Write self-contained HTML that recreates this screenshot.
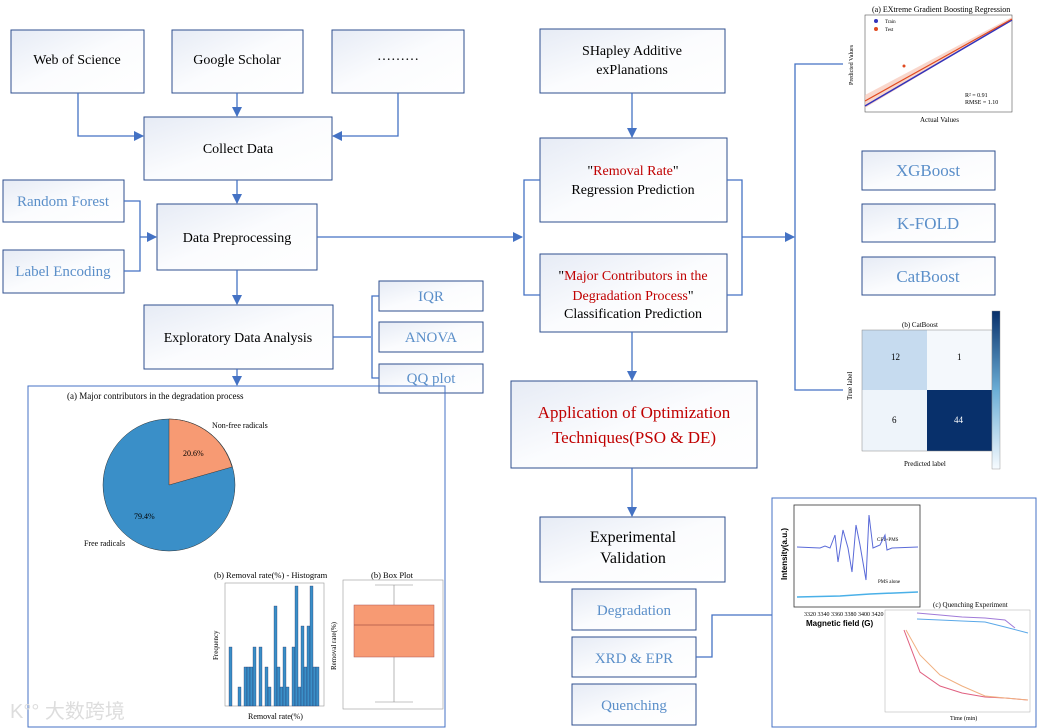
<!DOCTYPE html>
<html><head><meta charset="utf-8"><style>
body{margin:0;background:#fff}
svg{display:block;font-family:"Liberation Serif",serif}
</style></head><body>
<svg width="1037" height="728" viewBox="0 0 1037 728" xmlns="http://www.w3.org/2000/svg">
<defs>
<linearGradient id="g" x1="0" y1="0" x2="1" y2="1"><stop offset="0" stop-color="#e6ebf5"/><stop offset="0.5" stop-color="#fbfcfe"/><stop offset="1" stop-color="#ffffff"/></linearGradient>
<marker id="a" markerWidth="10" markerHeight="10" refX="9" refY="5" orient="auto" markerUnits="userSpaceOnUse"><path d="M0,0 L10,5 L0,10 z" fill="#4472c4"/></marker>
</defs>
<g stroke="#2f4f8f" stroke-width="1" fill="url(#g)">
<rect x="11" y="30" width="133" height="63"/>
<rect x="172" y="30" width="131" height="63"/>
<rect x="332" y="30" width="132" height="63"/>
<rect x="144" y="117" width="188" height="63"/>
<rect x="157" y="204" width="160" height="66"/>
<rect x="144" y="305" width="189" height="64"/>
<rect x="3" y="180" width="121" height="42"/>
<rect x="3" y="250" width="121" height="43"/>
<rect x="379" y="281" width="104" height="30"/>
<rect x="379" y="322" width="104" height="30"/>
<rect x="379" y="364" width="104" height="29"/>
<rect x="540" y="29" width="185" height="64"/>
<rect x="540" y="138" width="187" height="84"/>
<rect x="540" y="254" width="187" height="78"/>
<rect x="511" y="381" width="246" height="87"/>
<rect x="540" y="517" width="185" height="65"/>
<rect x="572" y="589" width="124" height="41"/>
<rect x="572" y="637" width="124" height="40"/>
<rect x="572" y="684" width="124" height="41"/>
<rect x="862" y="151" width="133" height="39"/>
<rect x="862" y="204" width="133" height="38"/>
<rect x="862" y="257" width="133" height="38"/>
</g>
<rect x="28" y="386" width="417" height="341" fill="none" stroke="#4472c4"/>
<rect x="772" y="498" width="264" height="229" fill="none" stroke="#4472c4"/>
<g font-size="14" text-anchor="middle" fill="#000">
<text x="77" y="64">Web of Science</text>
<text x="237" y="64">Google Scholar</text>
<text x="398" y="60">………</text>
<text x="238" y="153">Collect Data</text>
<text x="237" y="242">Data Preprocessing</text>
<text x="238" y="342">Exploratory Data Analysis</text>
<text x="632" y="55">SHapley Additive</text>
<text x="632" y="74">exPlanations</text>
<text x="633" y="175">"<tspan fill="#c00000">Removal Rate</tspan>"</text>
<text x="633" y="194">Regression Prediction</text>
<text x="633" y="280">"<tspan fill="#c00000">Major Contributors in the</tspan></text>
<text x="633" y="300"><tspan fill="#c00000">Degradation Process</tspan>"</text>
<text x="633" y="318">Classification Prediction</text>
<text x="634" y="418" font-size="17" fill="#c00000">Application of Optimization</text>
<text x="634" y="443" font-size="17" fill="#c00000">Techniques(PSO &amp; DE)</text>
<text x="633" y="542" font-size="16">Experimental</text>
<text x="633" y="563" font-size="16">Validation</text>
</g>
<g font-size="15" text-anchor="middle" fill="#5b8fc9">
<text x="63" y="206">Random Forest</text>
<text x="63" y="276">Label Encoding</text>
<text x="431" y="301">IQR</text>
<text x="431" y="342">ANOVA</text>
<text x="431" y="383">QQ plot</text>
<text x="634" y="615">Degradation</text>
<text x="634" y="663">XRD &amp; EPR</text>
<text x="634" y="710">Quenching</text>
<text x="928" y="176" font-size="17">XGBoost</text>
<text x="928" y="229" font-size="17">K-FOLD</text>
<text x="928" y="282" font-size="17">CatBoost</text>
</g>
<g stroke="#4472c4" stroke-width="1.3" fill="none">
<path d="M78,93 V136 H143" marker-end="url(#a)"/>
<path d="M237,93 V116" marker-end="url(#a)"/>
<path d="M398,93 V136 H333" marker-end="url(#a)"/>
<path d="M237,180 V203" marker-end="url(#a)"/>
<path d="M124,201 H140 V271 H124"/>
<path d="M140,237 H156" marker-end="url(#a)"/>
<path d="M237,270 V304" marker-end="url(#a)"/>
<path d="M317,237 H522" marker-end="url(#a)"/>
<path d="M540,180 H524 V295 H540"/>
<path d="M333,337 H371"/>
<path d="M379,296 H372 V378 H379"/>
<path d="M237,369 V385" marker-end="url(#a)"/>
<path d="M632,93 V137" marker-end="url(#a)"/>
<path d="M727,180 H742 V295 H727"/>
<path d="M742,237 H794" marker-end="url(#a)"/>
<path d="M843,64 H795 V390 H843"/>
<path d="M632,332 V380" marker-end="url(#a)"/>
<path d="M632,468 V516" marker-end="url(#a)"/>
<path d="M696,657 H712 V615 H772"/>
</g>
<g font-size="9">
<text x="67" y="399">(a) Major contributors in the degradation process</text>
<circle cx="169" cy="485" r="66" fill="#3a8fc8" stroke="#333" stroke-width="0.5"/>
<path d="M169,485 V419 A66,66 0 0 1 232,467 z" fill="#f79a73" stroke="#333" stroke-width="0.5"/>
<text x="183" y="456" font-size="8">20.6%</text>
<text x="134" y="519" font-size="8">79.4%</text>
<text x="212" y="428" font-size="8">Non-free radicals</text>
<text x="84" y="546" font-size="8">Free radicals</text>
<text x="214" y="578" font-size="8.5">(b) Removal rate(%) - Histogram</text>
<text x="371" y="578" font-size="8.5">(b) Box Plot</text>
<rect x="225" y="583" width="99" height="123" fill="none" stroke="#999" stroke-width="0.6"/>
<g fill="#3a8fc8" stroke="#225" stroke-width="0.3">
<rect x="229" y="647" width="3" height="59"/><rect x="238" y="687" width="3" height="19"/>
<rect x="244" y="667" width="3" height="39"/><rect x="247" y="667" width="3" height="39"/><rect x="250" y="667" width="3" height="39"/>
<rect x="253" y="647" width="3" height="59"/><rect x="259" y="647" width="3" height="59"/><rect x="265" y="667" width="3" height="39"/>
<rect x="268" y="687" width="3" height="19"/><rect x="274" y="606" width="3" height="100"/><rect x="277" y="667" width="3" height="39"/>
<rect x="280" y="687" width="3" height="19"/><rect x="283" y="647" width="3" height="59"/><rect x="286" y="687" width="3" height="19"/>
<rect x="292" y="647" width="3" height="59"/><rect x="295" y="586" width="3" height="120"/><rect x="298" y="687" width="3" height="19"/>
<rect x="301" y="626" width="3" height="80"/><rect x="304" y="667" width="3" height="39"/><rect x="307" y="626" width="3" height="80"/>
<rect x="310" y="586" width="3" height="120"/><rect x="313" y="667" width="3" height="39"/><rect x="316" y="667" width="3" height="39"/>
</g>
<text x="248" y="719" font-size="8">Removal rate(%)</text>
<text x="218" y="660" font-size="7" transform="rotate(-90 218 660)">Frequency</text>
<rect x="343" y="580" width="100" height="129" fill="none" stroke="#999" stroke-width="0.6"/>
<path d="M394,585 V605 M394,657 V702 M375,585 H413 M375,702 H413" stroke="#888" fill="none" stroke-width="0.6"/>
<rect x="354" y="605" width="80" height="52" fill="#f79a73" stroke="#a55" stroke-width="0.5"/>
<path d="M354,625 H434" stroke="#a54" stroke-width="0.8"/>
<text x="336" y="670" font-size="7" transform="rotate(-90 336 670)">Removal rate(%)</text>
</g>
<g font-size="7">
<text x="872" y="12" font-size="8">(a) EXtreme Gradient Boosting Regression</text>
<rect x="865" y="15" width="147" height="97" fill="#fff" stroke="#555" stroke-width="0.6"/>
<path d="M865,108 L1012,20 L1012,17 L865,95 z" fill="#f6c6b6" opacity="0.7"/>
<line x1="865" y1="106" x2="1012" y2="20" stroke="#3333bb" stroke-width="1.5"/>
<line x1="865" y1="101" x2="1012" y2="19" stroke="#e04a20" stroke-width="1.2"/>
<circle cx="904" cy="66" r="1.5" fill="#e04a20"/>
<circle cx="876" cy="21" r="2" fill="#3333bb"/><text x="885" y="23" font-size="5">Train</text>
<circle cx="876" cy="29" r="2" fill="#e04a20"/><text x="885" y="31" font-size="5">Test</text>
<text x="965" y="97" font-size="6">R² = 0.91</text><text x="965" y="104" font-size="6">RMSE = 1.10</text>
<text x="920" y="122">Actual Values</text>
<text x="853" y="85" font-size="6" transform="rotate(-90 853 85)">Predicted Values</text>
</g>
<g font-size="7">
<text x="902" y="327">(b) CatBoost</text>
<rect x="862" y="330" width="65" height="60" fill="#c6dbef"/>
<rect x="927" y="330" width="65" height="60" fill="#f4f8fc"/>
<rect x="862" y="390" width="65" height="61" fill="#eef4fa"/>
<rect x="927" y="390" width="65" height="61" fill="#08306b"/>
<rect x="862" y="330" width="130" height="121" fill="none" stroke="#888" stroke-width="0.5"/>
<text x="891" y="360" font-size="9">12</text><text x="957" y="360" font-size="9">1</text>
<text x="892" y="423" font-size="9">6</text><text x="954" y="423" font-size="9" fill="#fff">44</text>
<text x="904" y="466">Predicted label</text>
<text x="852" y="400" transform="rotate(-90 852 400)">True label</text>
<defs><linearGradient id="cb" x1="0" y1="1" x2="0" y2="0"><stop offset="0" stop-color="#f7fbff"/><stop offset="0.5" stop-color="#6baed6"/><stop offset="1" stop-color="#08306b"/></linearGradient></defs>
<rect x="992" y="311" width="8" height="158" fill="url(#cb)" stroke="#888" stroke-width="0.4"/>
</g>
<g font-size="7">
<rect x="794" y="505" width="126" height="102" fill="#fff" stroke="#333" stroke-width="0.8"/>
<polyline points="797,547 820,548 825,546 830,548 835,535 838,562 843,530 848,548 852,572 856,525 860,545 866,580 869,515 873,548 880,545 885,535 887,550 892,548 918,547" fill="none" stroke="#5a6ad8" stroke-width="1"/>
<polyline points="797,597 840,596 870,594 918,592" fill="none" stroke="#4ab0e8" stroke-width="1.5"/>
<text x="877" y="541" font-size="5">CF1+PMS</text><text x="878" y="583" font-size="5">PMS alone</text>
<text x="804" y="616" font-size="6">3320 3340 3360 3380 3400 3420</text>
<text x="806" y="626" font-size="8" font-weight="bold" font-family="Liberation Sans,sans-serif">Magnetic field (G)</text>
<text x="787" y="580" font-size="8" font-weight="bold" font-family="Liberation Sans,sans-serif" transform="rotate(-90 787 580)">Intensity(a.u.)</text>
<text x="933" y="607">(c) Quenching Experiment</text>
<rect x="885" y="610" width="145" height="102" fill="#fff" stroke="#aaa" stroke-width="0.5"/>
<polyline points="917,613 940,615 962,617 985,618 1005,620 1015,628" fill="none" stroke="#a07ad8" stroke-width="1"/>
<polyline points="917,619 940,620 962,621 985,622 1005,627 1028,633" fill="none" stroke="#5aa8e8" stroke-width="1"/>
<polyline points="904,630 920,672 940,686 962,693 985,697 1005,698 1028,700" fill="none" stroke="#e06080" stroke-width="1"/>
<polyline points="906,630 920,655 940,675 962,686 985,696 1005,698 1028,700" fill="none" stroke="#f0b080" stroke-width="1"/>
<text x="950" y="720" font-size="6">Time (min)</text>
</g>
<text x="10" y="718" font-size="20" fill="#ddd" font-family="Liberation Sans,'Noto Sans CJK SC',sans-serif">K°° 大数跨境</text>
</svg>
</body></html>
